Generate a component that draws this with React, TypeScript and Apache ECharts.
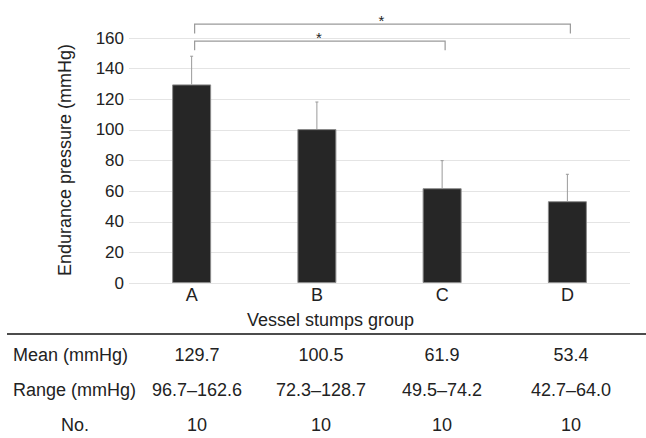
import React, { useEffect, useRef } from "react";
import * as echarts from "echarts";

const categories = ["A", "B", "C", "D"];
const means = [129.7, 100.5, 61.9, 53.4];
const sds = [18.4, 17.7, 18.0, 17.6];
const yTicks = [0, 20, 40, 60, 80, 100, 120, 140, 160];

// significance comparisons (category indices), bracket level and drop (mmHg)
const sigFrom = [0, 0];
const sigTo = [3, 2];
const sigLevel = [169, 158];
const sigDrop = [6, 6];
const sigLabel = ["*", "*"];

const rowLabels = ["Mean (mmHg)", "Range (mmHg)", "No."];
const meanRow = ["129.7", "100.5", "61.9", "53.4"];
const rangeRow = ["96.7\u2013162.6", "72.3\u2013128.7", "49.5\u201374.2", "42.7\u201364.0"];
const nRow = ["10", "10", "10", "10"];

const FONT = "'Liberation Sans', Arial, Helvetica, sans-serif";
const TXT = "#222";

export default function App() {
  const ref = useRef<HTMLDivElement>(null);
  useEffect(() => {
    if (!ref.current) return;
    const chart = echarts.init(ref.current, undefined, { renderer: "svg" });

    const colX = [197, 321, 442, 571];
    const rowY = [355, 390, 424.5];
    const rows = [meanRow, rangeRow, nRow];
    const tableTexts: any[] = [];
    rows.forEach((row, r) => {
      const isNo = r === 2;
      tableTexts.push({
        type: "text",
        x: isNo ? 75 : 13,
        y: rowY[r],
        style: {
          text: rowLabels[r],
          fontSize: 18,
          fontFamily: FONT,
          fill: TXT,
          textAlign: isNo ? "center" : "left",
          textVerticalAlign: "middle",
        },
      });
      row.forEach((v, c) => {
        tableTexts.push({
          type: "text",
          x: colX[c],
          y: rowY[r],
          style: {
            text: v,
            fontSize: 18,
            fontFamily: FONT,
            fill: TXT,
            textAlign: "center",
            textVerticalAlign: "middle",
          },
        });
      });
    });

    chart.setOption({
      animation: false,
      grid: { left: 129, right: 16, top: 38, bottom: 155 },
      xAxis: {
        type: "category",
        data: categories,
        axisLine: { show: false },
        axisTick: { show: false },
        axisLabel: { fontSize: 18, fontFamily: FONT, color: TXT, margin: 3 },
      },
      yAxis: {
        type: "value",
        min: 0,
        max: yTicks[yTicks.length - 1],
        interval: 20,
        axisLine: { show: false },
        axisTick: { show: false },
        axisLabel: { fontSize: 17, fontFamily: FONT, color: TXT, margin: 5 },
        splitLine: { lineStyle: { color: "#e4e4e4", width: 1 } },
      },
      series: [
        {
          type: "bar",
          data: means,
          barWidth: 39,
          itemStyle: { color: "#262626", borderColor: "#8a8a8a", borderWidth: 1 },
          z: 2,
        },
        {
          type: "custom",
          z: 3,
          encode: { x: 0, y: 2 },
          data: means.map((m, i) => [i, m, m + sds[i]]),
          renderItem: (params: any, api: any) => {
            const base = api.coord([api.value(0), api.value(1)]);
            const top = api.coord([api.value(0), api.value(2)]);
            const st = { stroke: "#9a9a9a", lineWidth: 1 };
            return {
              type: "group",
              children: [
                { type: "line", shape: { x1: base[0], y1: base[1], x2: base[0], y2: top[1] }, style: st },
                { type: "line", shape: { x1: base[0] - 1.5, y1: top[1], x2: base[0] + 1.5, y2: top[1] }, style: st },
              ],
            };
          },
        },
        {
          type: "custom",
          z: 3,
          clip: false,
          encode: { x: 0, y: 2 },
          data: sigFrom.map((f, i) => [f, sigTo[i], sigLevel[i], sigDrop[i], i]),
          renderItem: (params: any, api: any) => {
            const lvl = api.value(2);
            const p1 = api.coord([api.value(0), lvl]);
            const p2 = api.coord([api.value(1), lvl]);
            const b = api.coord([api.value(0), lvl - api.value(3)]);
            const off = 3;
            const label = sigLabel[api.value(4)];
            return {
              type: "group",
              children: [
                {
                  type: "polyline",
                  shape: {
                    points: [
                      [p1[0] + off, b[1]],
                      [p1[0] + off, p1[1]],
                      [p2[0] + off, p2[1]],
                      [p2[0] + off, b[1]],
                    ],
                  },
                  style: { stroke: "#9a9a9a", lineWidth: 1.2, fill: null },
                },
                {
                  type: "text",
                  x: (p1[0] + p2[0]) / 2 + off - 1,
                  y: p1[1] + 4,
                  style: {
                    text: label,
                    fontSize: 15,
                    fontFamily: FONT,
                    fill: TXT,
                    textAlign: "center",
                    textVerticalAlign: "bottom",
                  },
                },
              ],
            };
          },
        },
      ],
      graphic: [
        {
          type: "text",
          x: 65,
          y: 160,
          rotation: Math.PI / 2,
          style: {
            text: "Endurance pressure (mmHg)",
            fontSize: 18,
            fontFamily: FONT,
            fill: TXT,
            textAlign: "center",
            textVerticalAlign: "middle",
          },
        },
        {
          type: "text",
          x: 330.5,
          y: 320,
          style: {
            text: "Vessel stumps group",
            fontSize: 18,
            fontFamily: FONT,
            fill: TXT,
            textAlign: "center",
            textVerticalAlign: "middle",
          },
        },
        {
          type: "line",
          shape: { x1: 7, y1: 334, x2: 646, y2: 334 },
          style: { stroke: "#111", lineWidth: 1.5 },
        },
        ...tableTexts,
      ],
    });
    return () => chart.dispose();
  }, []);
  return (
    <div
      ref={ref}
      style={{ position: "fixed", left: 0, top: 0, width: 646, height: 438, background: "#fff" }}
    />
  );
}
